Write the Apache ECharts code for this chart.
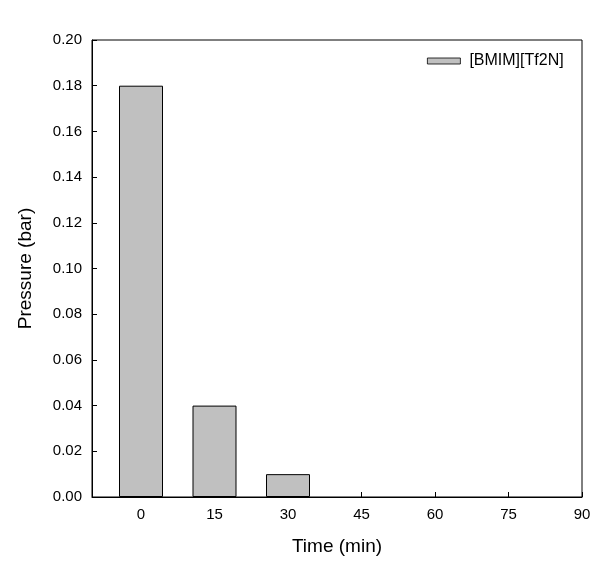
<!DOCTYPE html>
<html>
<head>
<meta charset="utf-8">
<script src="https://cdn.jsdelivr.net/npm/echarts@6/dist/echarts.min.js"></script>
<style>
html,body{margin:0;padding:0;background:#fff;}
#c{width:612px;height:566px;}
</style>
</head>
<body>
<div id="c"></div>
<script>
var times = [0, 15, 30, 45, 60, 75, 90];
var pressure = [0.18, 0.04, 0.01, 0, 0, 0, 0];
var xTicks = [0, 15, 30, 45, 60, 75, 90];
var seriesName = '[BMIM][Tf2N]';

var chart = echarts.init(document.getElementById('c'));
var font = 'Liberation Sans, Arial, sans-serif';
chart.setOption({
  animation: false,
  backgroundColor: '#fff',
  grid: {left: 92, right: 30, top: 40, bottom: 69, show: true, borderColor: '#000', borderWidth: 1, backgroundColor: 'transparent'},
  legend: {
    left: 422, top: 48,
    itemWidth: 33, itemHeight: 6,
    icon: 'rect',
    itemStyle: {color: '#c0c0c0', borderColor: '#000', borderWidth: 0.8},
    textStyle: {fontFamily: font, fontSize: 16, color: '#000', padding: [0, 0, 0, 4]},
    data: [seriesName]
  },
  xAxis: {
    type: 'value', min: -10, max: 90,
    name: 'Time (min)', nameLocation: 'middle', nameGap: 40,
    nameTextStyle: {fontFamily: font, fontSize: 19, color: '#000'},
    axisLine: {show: true, onZero: false, lineStyle: {color: '#000', width: 1}},
    axisTick: {show: true, inside: true, length: 5, lineStyle: {color: '#000'}, customValues: xTicks},
    axisLabel: {fontFamily: font, fontSize: 15, color: '#000', margin: 10, customValues: xTicks},
    splitLine: {show: false}
  },
  yAxis: {
    type: 'value', min: 0, max: 0.2, interval: 0.02,
    name: 'Pressure (bar)', nameLocation: 'middle', nameGap: 57,
    nameTextStyle: {fontFamily: font, fontSize: 19, color: '#000'},
    axisLine: {show: true, onZero: false, lineStyle: {color: '#000', width: 1}},
    axisTick: {show: true, inside: true, length: 5, lineStyle: {color: '#000'}},
    axisLabel: {fontFamily: font, fontSize: 15, color: '#000', margin: 10, formatter: function(v){return v.toFixed(2);}},
    splitLine: {show: false}
  },
  series: [{
    name: seriesName,
    type: 'bar',
    barWidth: 44,
    data: times.map(function(t, i){
      var item = {value: [t, pressure[i]]};
      if (pressure[i] === 0) { item.itemStyle = {borderWidth: 0}; }
      return item;
    }),
    itemStyle: {color: '#c0c0c0', borderColor: '#000', borderWidth: 1}
  }]
});
</script>
</body>
</html>
